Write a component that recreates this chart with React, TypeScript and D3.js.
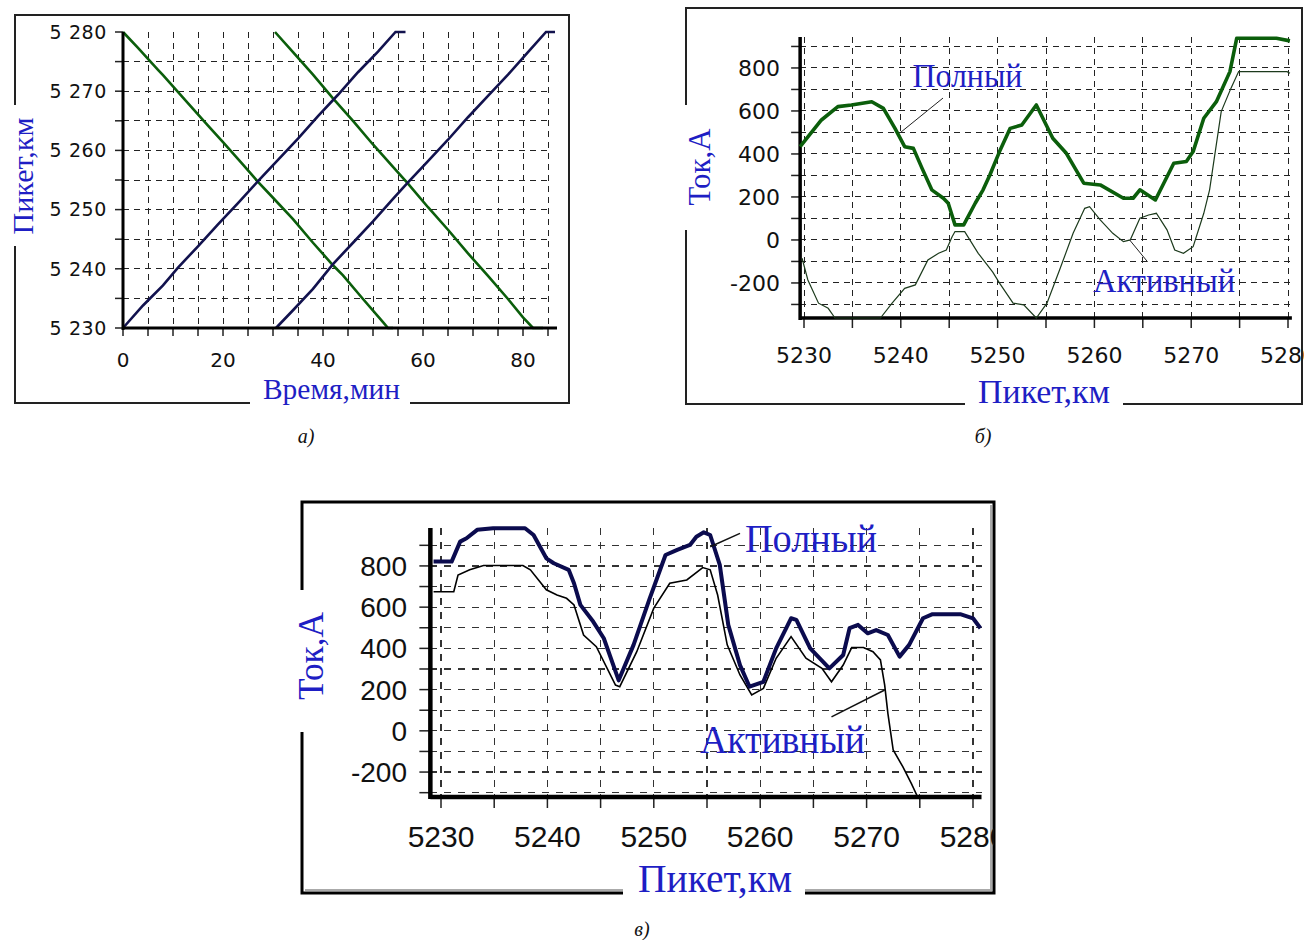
import React from "react";
import * as d3 from "d3";

type P = [number, number];

// ---------------- Panel а: train schedule (time, picket) ----------------
const timeTickValues = [0, 20, 40, 60, 80];
const timeTickLabels = ["0", "20", "40", "60", "80"];
const picketTickValuesA = [5230, 5240, 5250, 5260, 5270, 5280];
const picketTickLabelsA = ["5 230", "5 240", "5 250", "5 260", "5 270", "5 280"];

const oddTrain1: P[] = [
  [0, 5280], [3, 5277.3], [7, 5273.6], [8, 5272.7], [12, 5268.9], [17, 5264.2], [20, 5261.4],
  [24, 5257.6], [27, 5254.7], [30, 5252.0], [34, 5248.4], [38, 5244.4], [42, 5240.6], [44, 5238.9],
  [48, 5234.9], [52, 5231.0], [53, 5230], [54, 5230],
];
const evenTrain1: P[] = [
  [0, 5230], [4, 5233.8], [8, 5237.2], [11, 5240.2], [15, 5243.8], [19, 5247.5], [23, 5251.1],
  [27, 5254.8], [31, 5258.4], [35, 5262.0], [39, 5265.8], [43, 5269.4], [47, 5273.2], [51, 5276.7],
  [54.5, 5280], [56.5, 5280],
];
const oddTrain2: P[] = [
  [30.4, 5280], [34, 5276.6], [38, 5272.8], [42, 5268.8], [46, 5265.0], [50, 5261.0], [54, 5257.2],
  [57, 5254.4], [61, 5250.4], [65, 5246.6], [69, 5242.6], [73, 5238.8], [77, 5234.9], [80, 5231.8],
  [82, 5230], [84, 5230],
];
const evenTrain2: P[] = [
  [30.6, 5230], [34, 5233.0], [38, 5236.6], [42, 5240.8], [46, 5244.4], [50, 5248.0], [54, 5251.8],
  [57, 5254.6], [61, 5258.2], [65, 5261.8], [69, 5265.6], [73, 5269.2], [77, 5272.8], [81, 5276.6],
  [84.6, 5280], [86.4, 5280],
];

// ---------------- Panels б, в: current vs picket ----------------
const picketTickValues = [5230, 5240, 5250, 5260, 5270, 5280];
const picketTickLabels = ["5230", "5240", "5250", "5260", "5270", "5280"];
const currentTickValues = [-200, 0, 200, 400, 600, 800];
const currentTickLabels = ["-200", "0", "200", "400", "600", "800"];

const fullCurrentB: P[] = [
  [5229.6, 434], [5231.8, 558], [5233.5, 620], [5234.9, 628], [5237.0, 643], [5238.2, 612],
  [5239.4, 519], [5240.4, 434], [5241.3, 426], [5242.2, 333], [5243.2, 233], [5244.4, 194],
  [5244.9, 171], [5245.6, 70], [5246.5, 70], [5247.7, 172], [5248.5, 233], [5249.2, 302],
  [5250.2, 411], [5251.3, 519], [5252.5, 535], [5254.0, 628], [5255.7, 473], [5257.1, 403],
  [5258.9, 264], [5260.6, 256], [5263.0, 194], [5264.0, 194], [5264.7, 233], [5266.3, 186],
  [5268.2, 357], [5269.5, 365], [5270.2, 411], [5271.3, 566], [5272.6, 643], [5274.0, 783],
  [5274.7, 938], [5278.8, 938], [5280.2, 926],
];
const activeCurrentB: P[] = [
  [5229.8, -85], [5230.4, -186], [5231.5, -294], [5232.5, -318], [5233.2, -380], [5237.9, -380],
  [5239.1, -294], [5240.4, -225], [5241.5, -209], [5242.8, -93], [5243.9, -62], [5244.7, -47],
  [5245.3, 15], [5245.6, 39], [5246.6, 39], [5248.0, -62], [5249.5, -150], [5250.2, -201],
  [5251.6, -294], [5252.7, -302], [5254.0, -380], [5255.1, -294], [5256.4, -140], [5257.8, 31],
  [5259.0, 147], [5259.5, 155], [5260.6, 93], [5261.9, 31], [5263.0, -8], [5263.7, 0],
  [5264.7, 101], [5265.6, 116], [5266.4, 124], [5267.5, 47], [5268.3, -47], [5269.2, -62],
  [5270.2, -31], [5271.3, 124], [5271.9, 233], [5273.1, 597], [5274.1, 705], [5274.9, 783],
  [5279.9, 783], [5280.2, 775],
];

const fullCurrentC: P[] = [
  [5229.3, 821], [5231.0, 821], [5231.8, 918], [5232.4, 934], [5233.4, 975], [5234.9, 983],
  [5237.9, 983], [5238.7, 950], [5239.9, 837], [5240.6, 813], [5242.0, 781], [5242.5, 716],
  [5243.1, 611], [5244.3, 530], [5245.3, 449], [5246.7, 245], [5248.1, 417], [5249.6, 640],
  [5251.1, 853], [5252.2, 878], [5253.4, 902], [5254.0, 942], [5254.7, 963], [5255.3, 950],
  [5256.2, 805], [5257.0, 514], [5258.1, 319], [5259.0, 214], [5260.3, 238], [5261.5, 400],
  [5262.9, 546], [5263.4, 538], [5264.7, 400], [5266.5, 303], [5267.8, 368], [5268.4, 498],
  [5269.2, 514], [5270.1, 473], [5270.9, 489], [5272.0, 465], [5273.1, 360], [5274.0, 417],
  [5275.3, 546], [5276.2, 566], [5278.8, 566], [5280.0, 546], [5280.7, 498],
];
const activeCurrentC: P[] = [
  [5229.3, 675], [5231.2, 675], [5231.6, 756], [5232.7, 781], [5234.0, 802], [5237.7, 802],
  [5238.4, 781], [5239.9, 684], [5240.9, 659], [5241.8, 643], [5242.5, 611], [5243.4, 465],
  [5244.6, 408], [5246.4, 222], [5246.8, 214], [5248.4, 384], [5250.0, 595], [5251.5, 716],
  [5253.1, 732], [5254.6, 792], [5255.3, 781], [5256.0, 659], [5256.9, 417], [5258.1, 271],
  [5259.2, 174], [5260.3, 206], [5261.5, 352], [5262.9, 457], [5264.3, 352], [5265.8, 303],
  [5266.7, 238], [5267.8, 319], [5268.6, 404], [5269.7, 404], [5270.6, 384], [5271.3, 344],
  [5271.7, 222], [5272.0, 85], [5272.5, -93], [5273.4, -174], [5274.2, -255], [5274.8, -340],
  [5280.7, -340],
];

// annotation anchors (data units)
const labelsB = [
  { text: "Полный", at: [5241.2, 711] as P, len: 110, leader: [[5244.36, 660], [5239.92, 498]] as P[] },
  { text: "Активный", at: [5259.86, -242] as P, len: 142, leader: [[5263.64, 0], [5265.5, -102]] as P[] },
];
const labelsC = [
  { text: "Полный", at: [5258.57, 867] as P, len: 132, leader: [[5255.3, 893], [5258.1, 958]] as P[] },
  { text: "Активный", at: [5254.34, -108] as P, len: 165, leader: [[5266.7, 68], [5271.7, 198]] as P[] },
];

const TITLE = "#1e1ec4";
const SERIF = "'Liberation Serif', 'Times New Roman', serif";

function Frame({ d, w = 2, c = "#222" }: { d: string; w?: number; c?: string }) {
  return <path d={d} fill="none" stroke={c} strokeWidth={w} />;
}

export default function App() {
  // ----- panel а -----
  const ax = d3.scaleLinear().domain([0, 80]).range([123, 523]);
  const ay = d3.scaleLinear().domain([5230, 5280]).range([328, 32]);
  const aLine = d3.line<P>().x((d) => ax(d[0])).y((d) => ay(d[1]));
  const aGridX = d3.range(5, 86, 5);
  const aGridY = d3.range(5235, 5276, 5);
  const aTickY = d3.range(5230, 5281, 5);
  const aTickX = d3.range(0, 86, 5);

  // ----- panel б -----
  const bx = d3.scaleLinear().domain([5230, 5280]).range([804, 1288]);
  const by = d3.scaleLinear().domain([-363, 944]).range([318, 37]).clamp(true);
  const bLine = d3.line<P>().x((d) => bx(d[0])).y((d) => by(d[1]));
  const bGridX = d3.range(5230, 5281, 5);
  const bGridY = d3.range(-300, 901, 100);

  // ----- panel в -----
  const cx = d3.scaleLinear().domain([5230, 5280]).range([441, 973]);
  const cy = d3.scaleLinear().domain([-321, 984]).range([797, 528]).clamp(true);
  const cLine = d3.line<P>().x((d) => cx(d[0])).y((d) => cy(d[1]));
  const cGridX = d3.range(5230, 5281, 5);
  const cGridY = d3.range(-300, 901, 100);

  const aX0 = ax(0), aX1 = ax(86.8), aYb = ay(5230), aYt = ay(5280);
  const bX0 = bx(5229.6), bX1 = bx(5280.4), bYb = by(-363), bYt = by(944);
  const cX0 = cx(5229), cX1 = cx(5280.8), cYb = cy(-321), cYt = cy(984);

  return (
    <svg
      width={1304}
      height={940}
      style={{ position: "absolute", left: 0, top: 0, background: "#fff" }}
    >
      <defs>
        <clipPath id="clipC">
          <rect x={300} y={495} width={694} height={400} />
        </clipPath>
      </defs>
      <rect x={0} y={0} width={1304} height={940} fill="#fff" />

      {/* ================= Panel а ================= */}
      <g>
        <Frame d={`M15,105 V15 H569 V403 H410 M250,403 H15 V246`} />
        <g stroke="#222" strokeWidth={1} strokeDasharray="6,5" shapeRendering="crispEdges">
          {aGridX.map((t) => (
            <line key={"ax" + t} x1={ax(t)} x2={ax(t)} y1={aYt} y2={aYb} />
          ))}
          {aGridY.map((t) => (
            <line key={"ay" + t} x1={aX0} x2={ax(85)} y1={ay(t)} y2={ay(t)} />
          ))}
        </g>
        <g stroke="#222" strokeWidth={1.5}>
          {aTickY.map((t) => (
            <line key={"aty" + t} x1={aX0 - 8} x2={aX0} y1={ay(t)} y2={ay(t)} />
          ))}
          {aTickX.map((t) => (
            <line key={"atx" + t} x1={ax(t)} x2={ax(t)} y1={aYb} y2={aYb + 8} />
          ))}
        </g>
        <path d={aLine(oddTrain1) || ""} fill="none" stroke="#0b5e0b" strokeWidth={2.6} />
        <path d={aLine(oddTrain2) || ""} fill="none" stroke="#0b5e0b" strokeWidth={2.6} />
        <path d={aLine(evenTrain1) || ""} fill="none" stroke="#12124e" strokeWidth={2.6} />
        <path d={aLine(evenTrain2) || ""} fill="none" stroke="#12124e" strokeWidth={2.6} />
        <line x1={aX0} x2={aX0} y1={aYt} y2={aYb + 2} stroke="#000" strokeWidth={3} />
        <line x1={aX0} x2={aX1} y1={aYb} y2={aYb} stroke="#000" strokeWidth={3} />
        <g fontFamily="'DejaVu Sans', sans-serif" fill="#111">
          {picketTickValuesA.map((t, i) => (
            <text key={"al" + t} x={107} y={ay(t)} dy="0.36em" textAnchor="end" fontSize={19} letterSpacing={0.6}>
              {picketTickLabelsA[i]}
            </text>
          ))}
          {timeTickValues.map((t, i) => (
            <text key={"alx" + t} x={ax(t)} y={367} textAnchor="middle" fontSize={20}>
              {timeTickLabels[i]}
            </text>
          ))}
        </g>
        <text x={263} y={399} fontFamily={SERIF} fontSize={30} fill={TITLE} textLength={137} lengthAdjust="spacingAndGlyphs">
          Время,мин
        </text>
        <text transform="translate(33,176) rotate(-90)" textAnchor="middle" fontFamily={SERIF} fontSize={29} fill={TITLE} textLength={117} lengthAdjust="spacingAndGlyphs">
          Пикет,км
        </text>
        <text x={306} y={443} textAnchor="middle" fontFamily={SERIF} fontStyle="italic" fontSize={20} fill="#111">
          а)
        </text>
      </g>

      {/* ================= Panel б ================= */}
      <g>
        <Frame d={`M686,105 V8 H1302 V404 H1123 M965,404 H686 V230`} />
        <g stroke="#222" strokeWidth={1} strokeDasharray="6,5" shapeRendering="crispEdges">
          {bGridX.map((t) => (
            <line key={"bx" + t} x1={bx(t)} x2={bx(t)} y1={bYt} y2={bYb} />
          ))}
          {bGridY.map((t) => (
            <line key={"by" + t} x1={bX0} x2={bX1} y1={by(t)} y2={by(t)} />
          ))}
        </g>
        <g stroke="#222" strokeWidth={1.5}>
          {bGridY.map((t) => (
            <line key={"bty" + t} x1={bX0 - 9} x2={bX0} y1={by(t)} y2={by(t)} />
          ))}
          {bGridX.map((t) => (
            <line key={"btx" + t} x1={bx(t)} x2={bx(t)} y1={bYb} y2={bYb + 10} />
          ))}
        </g>
        <line x1={bX0} x2={bX0} y1={bYt} y2={bYb + 2} stroke="#000" strokeWidth={3.5} />
        <line x1={bX0} x2={bX1} y1={bYb} y2={bYb} stroke="#000" strokeWidth={3.5} />
        <path d={bLine(activeCurrentB) || ""} fill="none" stroke="#1c3a1c" strokeWidth={1.2} />
        <path d={bLine(fullCurrentB) || ""} fill="none" stroke="#0b5e0b" strokeWidth={3.6} strokeLinejoin="round" />
        {labelsB.map((l) => (
          <g key={"lb" + l.text}>
            <path d={bLine(l.leader) || ""} stroke="#222" strokeWidth={1} fill="none" />
            <text x={bx(l.at[0])} y={by(l.at[1])} fontFamily={SERIF} fontSize={33} fill={TITLE} textLength={l.len} lengthAdjust="spacingAndGlyphs">
              {l.text}
            </text>
          </g>
        ))}
        <g fontFamily="'DejaVu Sans', sans-serif" fill="#111" fontSize={22}>
          {currentTickValues.map((t, i) => (
            <text key={"bl" + t} x={780} y={by(t)} dy="0.36em" textAnchor="end">
              {currentTickLabels[i]}
            </text>
          ))}
          {picketTickValues.map((t, i) => (
            <text key={"blx" + t} x={bx(t)} y={363} textAnchor="middle">
              {picketTickLabels[i]}
            </text>
          ))}
        </g>
        <text x={978} y={403} fontFamily={SERIF} fontSize={33} fill={TITLE} textLength={132} lengthAdjust="spacingAndGlyphs">
          Пикет,км
        </text>
        <text transform="translate(710,167) rotate(-90)" textAnchor="middle" fontFamily={SERIF} fontSize={31} fill={TITLE} textLength={77} lengthAdjust="spacingAndGlyphs">
          Ток,А
        </text>
        <text x={983} y={443} textAnchor="middle" fontFamily={SERIF} fontStyle="italic" fontSize={20} fill="#111">
          б)
        </text>
      </g>

      {/* ================= Panel в ================= */}
      <g>
        <Frame d={`M302,590 V502 H994 V893 H805 M623,893 H302 V732`} w={3} c="#000" />
        <path d={`M805,890 H991 V505`} fill="none" stroke="#aaa" strokeWidth={2} />
        <path d={`M305,890 H623`} fill="none" stroke="#aaa" strokeWidth={2} />
        <g stroke="#333" strokeWidth={1.3} strokeDasharray="7,7" shapeRendering="crispEdges">
          {cGridX.map((t) => (
            <line key={"cx" + t} x1={cx(t)} x2={cx(t)} y1={cYt} y2={cYb} />
          ))}
          {cGridY.map((t) => (
            <line key={"cy" + t} x1={cX0} x2={cX1} y1={cy(t)} y2={cy(t)} />
          ))}
        </g>
        <g stroke="#222" strokeWidth={1.5}>
          {cGridY.map((t) => (
            <line key={"cty" + t} x1={cX0 - 11} x2={cX0} y1={cy(t)} y2={cy(t)} />
          ))}
          {cGridX.map((t) => (
            <line key={"ctx" + t} x1={cx(t)} x2={cx(t)} y1={cYb} y2={cYb + 11} />
          ))}
        </g>
        <line x1={cX0} x2={cX0} y1={cYt} y2={cYb + 2} stroke="#000" strokeWidth={4.5} />
        <line x1={cX0} x2={cX1} y1={cYb} y2={cYb} stroke="#000" strokeWidth={4.5} />
        <path d={cLine(activeCurrentC) || ""} fill="none" stroke="#000" strokeWidth={1.6} />
        <path d={cLine(fullCurrentC) || ""} fill="none" stroke="#0b0b4e" strokeWidth={4} strokeLinejoin="round" />
        {labelsC.map((l) => (
          <g key={"lc" + l.text}>
            <path d={cLine(l.leader) || ""} stroke="#111" strokeWidth={1.5} fill="none" />
            <text x={cx(l.at[0])} y={cy(l.at[1])} fontFamily={SERIF} fontSize={39} fill={TITLE} textLength={l.len} lengthAdjust="spacingAndGlyphs">
              {l.text}
            </text>
          </g>
        ))}
        <g fontFamily="'Liberation Sans', Arial, sans-serif" fill="#111" clipPath="url(#clipC)">
          {currentTickValues.map((t, i) => (
            <text key={"cl" + t} x={407} y={cy(t)} dy="0.36em" textAnchor="end" fontSize={28}>
              {currentTickLabels[i]}
            </text>
          ))}
          {picketTickValues.map((t, i) => (
            <text key={"clx" + t} x={cx(t)} y={847} textAnchor="middle" fontSize={30}>
              {picketTickLabels[i]}
            </text>
          ))}
        </g>
        <text x={638} y={892} fontFamily={SERIF} fontSize={39} fill={TITLE} textLength={154} lengthAdjust="spacingAndGlyphs">
          Пикет,км
        </text>
        <text transform="translate(323,656) rotate(-90)" textAnchor="middle" fontFamily={SERIF} fontSize={36} fill={TITLE} textLength={88} lengthAdjust="spacingAndGlyphs">
          Ток,А
        </text>
        <text x={642} y={936} textAnchor="middle" fontFamily={SERIF} fontStyle="italic" fontSize={20} fill="#111">
          в)
        </text>
      </g>
    </svg>
  );
}
